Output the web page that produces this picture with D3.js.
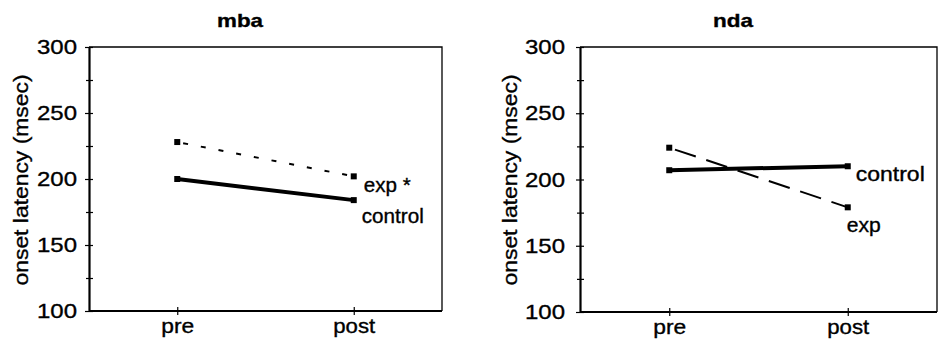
<!DOCTYPE html>
<html>
  <head>
    <title>onset latency</title>
    <meta charset="utf-8" />
    <script src="https://d3js.org/d3.v7.min.js"></script>
    <style>
      body { margin: 0; background: #fff; }
      text { font-family: "Liberation Sans", Arial, sans-serif; fill: #000; stroke: #000; stroke-width: 0.35px; }
    </style>
  </head>
  <body>
    <script>
      // data
      const phases = ["pre", "post"];
      const yTicks = [100, 150, 200, 250, 300];
      const yMinorTicks = [125, 175, 225, 275];
      const panelTitles = ["mba", "nda"];
      const mbaExp = [228, 202];
      const mbaControl = [200, 184];
      const ndaExp = [224, 179];
      const ndaControl = [207, 210];
      const mbaLabels = ["exp *", "control"];
      const ndaLabels = ["exp", "control"];

      const svg = d3.select("body").append("svg")
        .attr("width", 948).attr("height", 344);

      const panels = [
        { title: panelTitles[0], exp: mbaExp, control: mbaControl, labels: mbaLabels,
          x0: 89, x1: 442, y0: 47, y1: 311, titleX: 240, titleW: 46, ylabX: 28, tickEnd: 77,
          expDash: "5,13",
          expLab: { dx: 10, dy: 16, w: 47 }, ctlLab: { dx: 8, dy: 23, w: 62 } },
        { title: panelTitles[1], exp: ndaExp, control: ndaControl, labels: ndaLabels,
          x0: 580, x1: 937, y0: 47, y1: 312, titleX: 733, titleW: 40, ylabX: 517, tickEnd: 565,
          expDash: "22,11",
          expLab: { dx: -1, dy: 25, w: 34 }, ctlLab: { dx: 8, dy: 15, w: 69 } }
      ];

      panels.forEach(function (p) {
        const g = svg.append("g");

        const x = d3.scalePoint().domain(phases).range([p.x0, p.x1]).padding(0.5);
        const y = d3.scaleLinear().domain([100, 300]).range([p.y1, p.y0]);

        // title
        g.append("text")
          .attr("x", p.titleX).attr("y", 27)
          .attr("text-anchor", "middle")
          .attr("font-size", 19).attr("font-weight", "bold")
          .attr("textLength", p.titleW).attr("lengthAdjust", "spacingAndGlyphs")
          .text(p.title);

        // frame (top + right thinner)
        g.append("path")
          .attr("d", `M${p.x0},${p.y0}H${p.x1}V${p.y1}`)
          .attr("fill", "none").attr("stroke", "#000").attr("stroke-width", 1.3);

        // y axis: outside ticks + labels, inside ticks
        const yAxis = g.append("g")
          .attr("transform", `translate(${p.x0},0)`)
          .call(d3.axisLeft(y).tickValues(yTicks).tickSize(4).tickSizeOuter(0)
            .tickPadding(p.x0 - p.tickEnd - 4));
        yAxis.select(".domain").attr("stroke-width", 2.2);
        yAxis.selectAll(".tick line").attr("stroke-width", 1.2);
        yAxis.selectAll(".tick text")
          .attr("font-size", 21)
          .attr("font-family", "Liberation Sans, Arial, sans-serif")
          .attr("textLength", 40).attr("lengthAdjust", "spacingAndGlyphs");
        g.append("g")
          .attr("transform", `translate(${p.x0},0)`)
          .call(d3.axisRight(y).tickValues(yTicks.concat(yMinorTicks)).tickSize(4)
            .tickSizeOuter(0).tickFormat(""))
          .call(a => a.select(".domain").remove())
          .selectAll(".tick line").attr("stroke-width", 1.2);
        g.append("g")
          .attr("transform", `translate(${p.x0},0)`)
          .call(d3.axisLeft(y).tickValues(yMinorTicks).tickSize(3).tickSizeOuter(0).tickFormat(""))
          .call(a => a.select(".domain").remove())
          .selectAll(".tick line").attr("stroke-width", 1.2);

        // x axis
        const xAxis = g.append("g")
          .attr("transform", `translate(0,${p.y1})`)
          .call(d3.axisBottom(x).tickSize(4).tickSizeOuter(0).tickPadding(6));
        xAxis.select(".domain")
          .attr("d", `M${p.x0},0H${p.x1}`)
          .attr("stroke-width", 2.2);
        xAxis.selectAll(".tick line").attr("y1", -4).attr("stroke-width", 1.2);
        xAxis.selectAll(".tick text")
          .attr("font-size", 21)
          .attr("font-family", "Liberation Sans, Arial, sans-serif")
          .attr("dy", null).attr("y", 22)
          .attr("textLength", d => d === "pre" ? 33 : 42)
          .attr("lengthAdjust", "spacingAndGlyphs");

        // y axis title
        g.append("text")
          .attr("transform", `translate(${p.ylabX},180) rotate(-90)`)
          .attr("text-anchor", "middle")
          .attr("font-size", 20)
          .attr("textLength", 211).attr("lengthAdjust", "spacingAndGlyphs")
          .text("onset latency (msec)");

        const line = d3.line().x((d, i) => x(phases[i])).y(d => y(d));

        // control: thick solid
        g.append("path").datum(p.control)
          .attr("d", line).attr("fill", "none")
          .attr("stroke", "#000").attr("stroke-width", 4);
        // exp: dashed
        g.append("path").datum(p.exp)
          .attr("d", line).attr("fill", "none")
          .attr("stroke", "#000").attr("stroke-width", 2)
          .attr("stroke-dasharray", p.expDash)
          .attr("stroke-dashoffset", -6);

        // square markers
        [p.control, p.exp].forEach(function (s) {
          g.selectAll(null).data(s).enter().append("rect")
            .attr("x", (d, i) => x(phases[i]) - 3)
            .attr("y", d => y(d) - 3)
            .attr("width", 6).attr("height", 6)
            .attr("fill", "#000");
        });

        // series labels next to the post point
        const xp = x(phases[1]);
        g.append("text")
          .attr("x", xp + p.expLab.dx)
          .attr("y", y(p.exp[1]) + p.expLab.dy)
          .attr("font-size", 20)
          .attr("textLength", p.expLab.w).attr("lengthAdjust", "spacingAndGlyphs")
          .text(p.labels[0]);
        g.append("text")
          .attr("x", xp + p.ctlLab.dx)
          .attr("y", y(p.control[1]) + p.ctlLab.dy)
          .attr("font-size", 20)
          .attr("textLength", p.ctlLab.w).attr("lengthAdjust", "spacingAndGlyphs")
          .text(p.labels[1]);
      });
    </script>
  </body>
</html>
